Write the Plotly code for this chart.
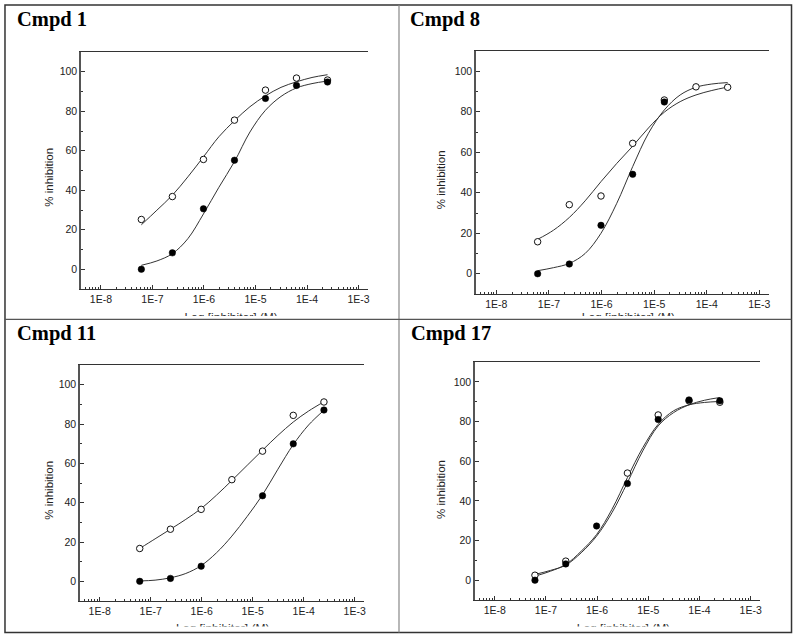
import plotly.graph_objects as go

W, H = 800, 637

# ---------------- data ----------------
conc = [6.1e-8, 2.44e-7, 9.77e-7, 3.91e-6, 1.5625e-5, 6.25e-5, 2.5e-4]
fit_conc = [6.1e-8, 1.22e-7, 2.44e-7, 4.88e-7, 9.77e-7, 1.95e-6, 3.91e-6,
            7.81e-6, 1.5625e-5, 3.125e-5, 6.25e-5, 1.25e-4, 2.5e-4]

titles = ["Cmpd 1", "Cmpd 8", "Cmpd 11", "Cmpd 17"]

cmpd1_open = [25.2, 36.8, 55.6, 75.5, 90.7, 96.8, 95.8]
cmpd1_filled = [0.0, 8.3, 30.6, 55.2, 86.5, 93.1, 94.8]
cmpd1_open_fit = [22.5, 29.9, 37.5, 46.8, 56.9, 67.1, 75.2, 82.3, 87.8, 92.1, 94.9, 97.1, 98.5]
cmpd1_filled_fit = [2.0, 4.2, 7.9, 15.5, 28.0, 41.5, 54.5, 69.5, 80.5, 87.5, 91.8, 94.0, 95.3]

cmpd8_open = [15.8, 34.1, 38.4, 64.4, 85.8, 92.3, 92.1]
cmpd8_filled = [0.0, 4.8, 23.9, 49.1, 84.8, None, None]
cmpd8_open_fit = [17.0, 21.5, 27.8, 36.0, 45.5, 54.5, 63.0, 72.0, 79.8, 85.0, 88.3, 90.5, 92.2]
cmpd8_filled_fit = [1.5, 3.0, 5.1, 10.0, 20.0, 34.8, 52.9, 69.4, 80.9, 88.3, 92.1, 93.7, 94.4]

cmpd11_open = [16.7, 26.5, 36.6, 51.7, 66.2, 84.4, 91.2]
cmpd11_filled = [0.0, 1.5, 7.7, None, 43.5, 69.9, 87.1]
cmpd11_open_fit = [16.7, 21.6, 26.5, 31.5, 37.0, 43.8, 51.3, 59.0, 66.7, 74.2, 81.0, 86.6, 91.3]
cmpd11_filled_fit = [0.2, 0.6, 1.8, 4.0, 8.0, 14.5, 23.0, 33.0, 44.0, 57.0, 69.5, 79.5, 87.0]

cmpd17_open = [2.5, 9.6, None, 54.0, 83.3, 90.4, 89.7]
cmpd17_filled = [0.0, 8.2, 27.3, 48.7, 81.0, 90.9, 90.4]
cmpd17_open_fit = [2.0, 4.5, 7.9, 14.6, 23.0, 35.7, 51.7, 66.8, 78.6, 85.4, 88.4, 89.6, 90.1]
cmpd17_filled_fit = [2.9, 4.9, 7.6, 13.8, 22.2, 34.0, 49.2, 65.2, 77.8, 84.5, 88.4, 90.7, 92.1]

x_tick_vals = [1e-8, 1e-7, 1e-6, 1e-5, 1e-4, 1e-3]
x_tick_text = ["1E-8", "1E-7", "1E-6", "1E-5", "1E-4", "1E-3"]
y_tick_vals = [0, 20, 40, 60, 80, 100]
y_title = "% inhibition"
x_title = "Log [inhibitor] (M)"

series = [
    (cmpd1_open, cmpd1_filled, cmpd1_open_fit, cmpd1_filled_fit),
    (cmpd8_open, cmpd8_filled, cmpd8_open_fit, cmpd8_filled_fit),
    (cmpd11_open, cmpd11_filled, cmpd11_open_fit, cmpd11_filled_fit),
    (cmpd17_open, cmpd17_filled, cmpd17_open_fit, cmpd17_filled_fit),
]

# ---------------- layout geometry (pixels) ----------------
boxes = [(81, 369, 52, 289), (477, 771, 51, 294), (80, 365, 365, 601), (476, 762, 362, 600)]
title_pos = [(15, 19.5), (409.5, 19.5), (15.5, 333), (410, 333)]
ytitle_pos = [(48.3, 177.5), (442.3, 180), (48.3, 490.5), (442.3, 489.7)]
xtitle_x = [231.7, 630, 223.3, 625]
clip_rows = [316.0, 626.5]


def px(x):
    return x / W


def py(y):
    return 1 - y / H


minor_x = [m * 10 ** e for e in range(-9, -2) for m in range(2, 10)]

SANS = "Liberation Sans, Arial, sans-serif"
SERIF = "Liberation Serif, Times New Roman, serif"
INK = "#222"

fig = go.Figure()
layout = {}
annotations = []

for i in range(4):
    n = "" if i == 0 else str(i + 1)
    xr, yr = "x" + n, "y" + n
    o, f, ofit, ffit = series[i]
    x0, x1, y0, y1 = boxes[i]

    fig.add_trace(go.Scatter(x=fit_conc, y=ofit, mode="lines", xaxis=xr, yaxis=yr,
                             line=dict(color="#333", width=1, shape="spline", smoothing=1),
                             showlegend=False, hoverinfo="skip"))
    fig.add_trace(go.Scatter(x=fit_conc, y=ffit, mode="lines", xaxis=xr, yaxis=yr,
                             line=dict(color="#333", width=1, shape="spline", smoothing=1),
                             showlegend=False, hoverinfo="skip"))
    fig.add_trace(go.Scatter(x=conc, y=o, mode="markers", xaxis=xr, yaxis=yr,
                             marker=dict(symbol="circle", size=6.5, color="white",
                                         line=dict(color="#111", width=1)),
                             showlegend=False))
    fig.add_trace(go.Scatter(x=conc, y=f, mode="markers", xaxis=xr, yaxis=yr,
                             marker=dict(symbol="circle", size=6.5, color="#000",
                                         line=dict(color="#000", width=0.5)),
                             showlegend=False))

    layout["xaxis" + n] = dict(
        type="log", range=[-8.39, -2.815], domain=[px(x0), px(x1)], anchor=yr,
        tickvals=x_tick_vals, ticktext=x_tick_text, ticks="inside", ticklen=4,
        tickwidth=1, tickcolor="#333",
        minor=dict(tickvals=minor_x, ticks="inside", ticklen=2, tickwidth=1, tickcolor="#333"),
        showline=True, linecolor="#333", linewidth=1.3, mirror=True,
        showgrid=False, zeroline=False,
        tickfont=dict(family=SANS, size=10.5, color=INK),
    )
    layout["yaxis" + n] = dict(
        range=[-10, 110], domain=[py(y1), py(y0)], anchor=xr,
        tickvals=y_tick_vals, ticks="inside", ticklen=4, tickwidth=1, tickcolor="#333",
        minor=dict(tickvals=[10, 30, 50, 70, 90], ticks="inside", ticklen=2,
                   tickwidth=1, tickcolor="#333"),
        showline=True, linecolor="#555", linewidth=1.5, mirror=False,
        showgrid=False, zeroline=False,
        tickfont=dict(family=SANS, size=10.5, color=INK),
    )

    tx, ty = title_pos[i]
    annotations.append(dict(text=titles[i], x=px(tx), y=py(ty), xref="paper", yref="paper",
                            xanchor="left", yanchor="middle", showarrow=False,
                            font=dict(family=SERIF, size=20.5, color="#000", weight="bold")))
    yx, yy = ytitle_pos[i]
    annotations.append(dict(text=y_title, x=px(yx), y=py(yy), xref="paper", yref="paper",
                            xanchor="center", yanchor="middle", showarrow=False, textangle=-90,
                            font=dict(family=SANS, size=11.5, color=INK)))

# clipped x-axis titles (text traces clipped by their own subplot area)
for r in range(2):
    n = str(5 + r)
    clip = clip_rows[r]
    layout["xaxis" + n] = dict(range=[0, W], domain=[0, 1], anchor="y" + n, visible=False,
                               fixedrange=True)
    layout["yaxis" + n] = dict(range=[clip, clip - 14], domain=[py(clip), py(clip - 14)],
                               anchor="x" + n, visible=False, fixedrange=True)
    for c in range(2):
        i = r * 2 + c
        fig.add_trace(go.Scatter(x=[xtitle_x[i]], y=[clip + 3.0], mode="text", text=[x_title],
                                 textposition="middle center", cliponaxis=True,
                                 textfont=dict(family=SANS, size=12, color="#333"),
                                 xaxis="x" + n, yaxis="y" + n, showlegend=False,
                                 hoverinfo="skip"))

# cell borders
shapes = [
    dict(type="rect", xref="paper", yref="paper", x0=px(5), x1=px(793.5), y0=py(632.5), y1=py(5),
         line=dict(color="#333", width=1.5)),
    dict(type="line", xref="paper", yref="paper", x0=px(400), x1=px(400), y0=py(632.5), y1=py(5),
         line=dict(color="#888", width=1.2)),
    dict(type="line", xref="paper", yref="paper", x0=px(5), x1=px(793.5), y0=py(319.3), y1=py(319.3),
         line=dict(color="#555", width=1.2)),
]

fig.update_layout(
    width=W, height=H, margin=dict(l=0, r=0, t=0, b=0),
    paper_bgcolor="white", plot_bgcolor="rgba(0,0,0,0)",
    showlegend=False, annotations=annotations, shapes=shapes, **layout,
)

fig.write_html(
    "out.html",
    config={"displayModeBar": False, "staticPlot": True},
    post_script="document.body.style.margin='0';document.body.style.padding='0';"
                "document.body.style.overflow='hidden';",
)
